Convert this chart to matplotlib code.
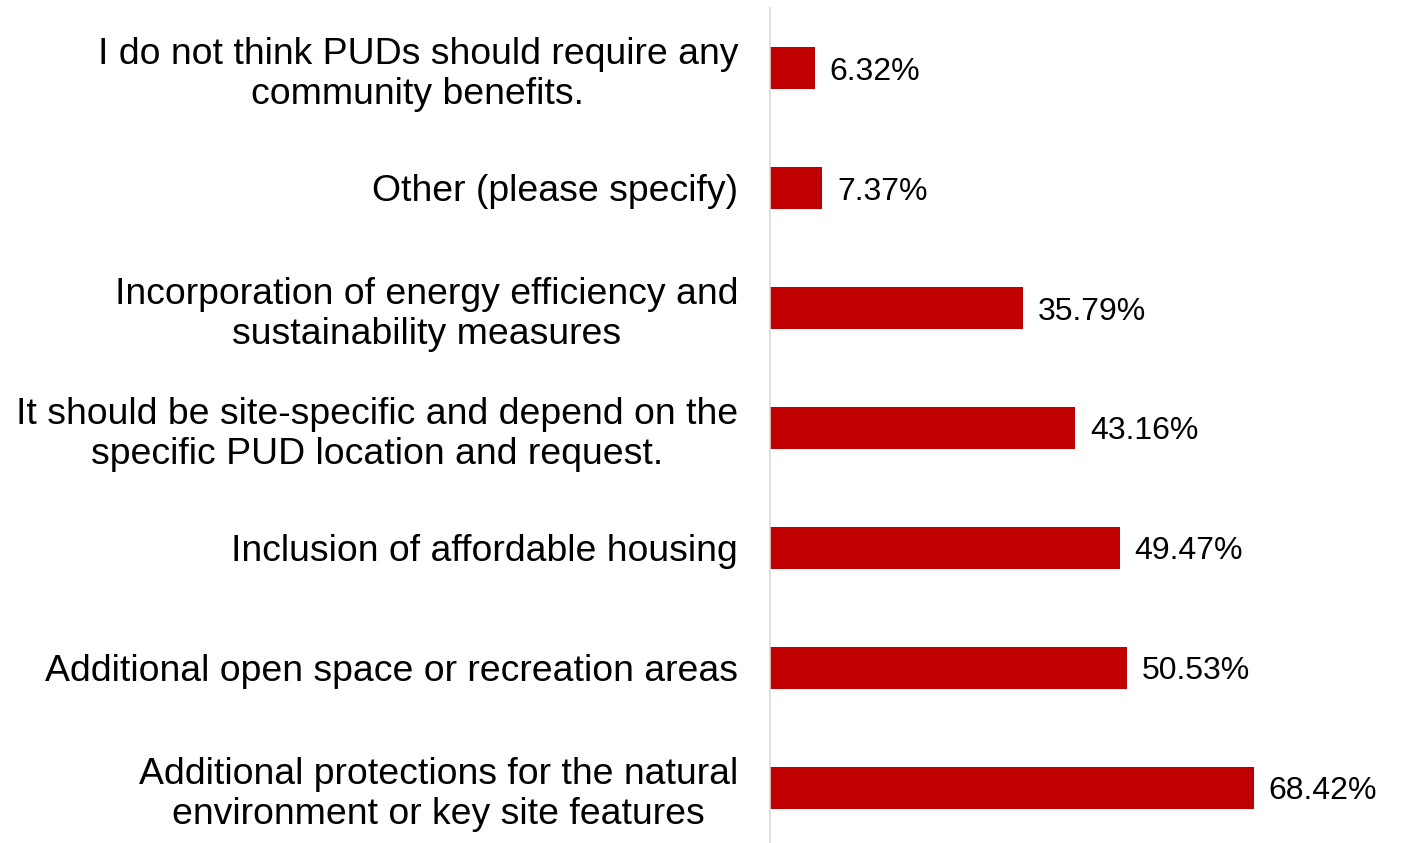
import matplotlib
matplotlib.use("Agg")
import matplotlib.pyplot as plt

plt.rcParams['font.family'] = ['Liberation Sans', 'DejaVu Sans']

# survey answers, top to bottom as in the chart
answers = [
    "I do not think PUDs should require any\ncommunity benefits.",
    "Other (please specify)",
    "Incorporation of energy efficiency and\nsustainability measures",
    "It should be site-specific and depend on the\nspecific PUD location and request.",
    "Inclusion of affordable housing",
    "Additional open space or recreation areas",
    "Additional protections for the natural\nenvironment or key site features",
]
shares = [6.32, 7.37, 35.79, 43.16, 49.47, 50.53, 68.42]

bar_color = '#C00000'

fig = plt.figure(figsize=(14.03, 8.43), dpi=100)
# axes placed so the baseline sits at x=770px
ax = fig.add_axes([770 / 1403, 0.0, 620 / 1403, 835 / 843])

ypos = list(range(len(answers)))[::-1]
ax.barh(ypos, shares, height=0.35, color=bar_color)

for y, v in zip(ypos, shares):
    ax.text(v + 2.1, y - 0.03, f"{v:.2f}%", va='center', ha='left', fontsize=23)

ax.set_xlim(0, 620 / 7.07)
ax.set_ylim(-0.46, 6.5)
ax.set_yticks(ypos)
ax.set_yticklabels(answers, fontsize=26.9, multialignment='center', linespacing=1.2)
ax.tick_params(axis='y', length=0, pad=23)
ax.set_xticks([])

for s in ['top', 'right', 'bottom']:
    ax.spines[s].set_visible(False)
ax.spines['left'].set_color('#d9d9d9')
ax.spines['left'].set_linewidth(1.2)

fig.savefig('out.png', dpi=100)
